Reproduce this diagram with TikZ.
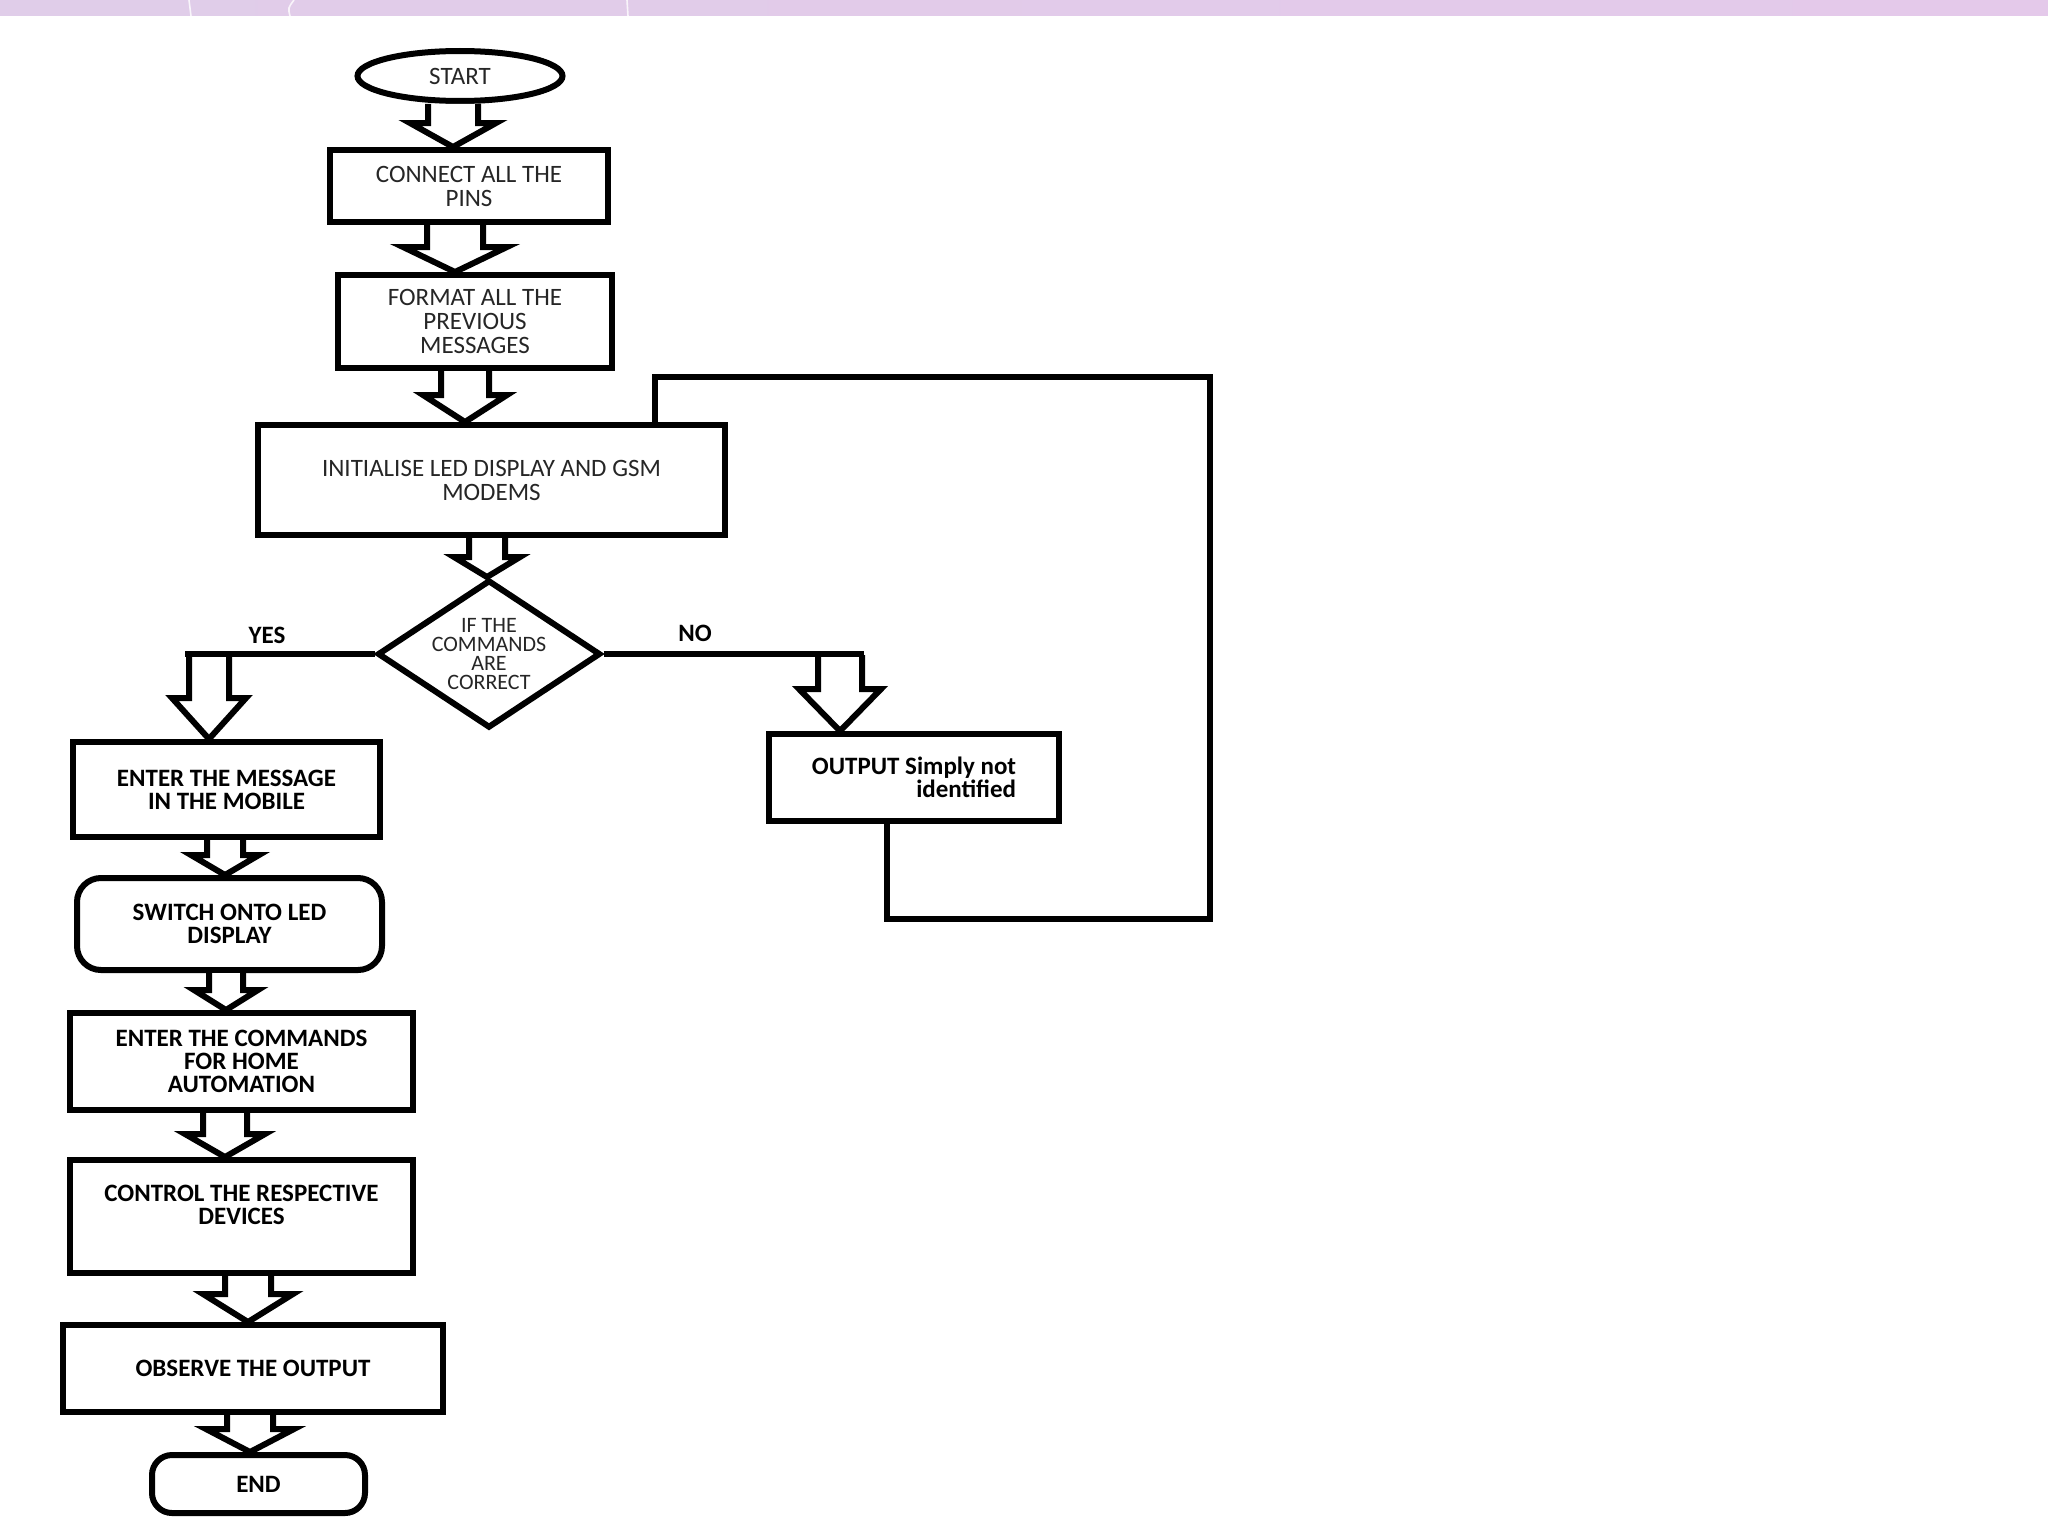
\documentclass[tikz,border=0pt]{standalone}
\usepackage{fontspec}
\setmainfont{Carlito}
\usetikzlibrary{calc,shapes.geometric}
\definecolor{bandL}{HTML}{E0CDE9}
\definecolor{bandM}{HTML}{F1E5F3}
\definecolor{bandR}{HTML}{E4C9EA}
\newcommand\barr[6]{%
  \draw[barrow] let \p1=(#1), \p2=(#2) in
    ({#3-#4},\y1) -- ({#3-#4},{\y2+#6*0.5pt}) -- ({#3-#5},{\y2+#6*0.5pt})
    -- (#3,\y2) -- ({#3+#5},{\y2+#6*0.5pt}) -- ({#3+#4},{\y2+#6*0.5pt})
    -- ({#3+#4},\y1);}
\begin{document}
\begin{tikzpicture}[x=0.5pt,y=-0.5pt,
  box/.style={draw, line width=3pt, rectangle, inner sep=0pt, align=center,
    text=black!85, font=\fontsize{12.5pt}{12pt}\selectfont},
  bbox/.style={box, text=black, font=\fontsize{12.5pt}{11.5pt}\selectfont\bfseries},
  barrow/.style={draw, fill=white, line width=3pt, line join=miter},
  link/.style={draw, line width=3pt},
  lbl/.style={font=\fontsize{12.5pt}{12pt}\selectfont\bfseries}]
\useasboundingbox (0,0) rectangle (2048,1536);
\fill[white] (0,0) rectangle (2048,1536);
\shade[left color=bandL, middle color=bandM, right color=bandR] (0,0) rectangle (2048,16);
\draw[white, opacity=0.8, line width=0.8pt] (189,0) -- (191,16) (294,0) .. controls (288,8) .. (290,16) (627,0) -- (628,16);

% nodes
\node[box, ellipse, minimum width=102.5pt, minimum height=25pt] (start) at (460,76) {START};
\node[box, minimum width=139pt, minimum height=36pt] (conn) at (469,186) {CONNECT ALL THE\\PINS};
\node[box, minimum width=137pt, minimum height=46.5pt] (fmt) at (475,321.5) {FORMAT ALL THE\\PREVIOUS\\MESSAGES};
\node[box, minimum width=233.5pt, minimum height=55pt] (init) at (491.5,480) {INITIALISE LED DISPLAY AND GSM\\MODEMS};
\node[box, diamond, aspect=1.5, minimum width=111.5pt, minimum height=74pt,
  font=\fontsize{11pt}{9.5pt}\selectfont] (dec) at (489,654) {IF THE\\COMMANDS\\ARE\\CORRECT};
\node[bbox, minimum width=153.5pt, minimum height=47.5pt] (msg) at (226.5,789.5) {ENTER THE MESSAGE\\IN THE MOBILE};
\node[bbox, minimum width=145pt, minimum height=43.5pt, align=right] (out) at (914,777.5) {OUTPUT Simply not\\identified};
\node[bbox, rounded corners=12pt, minimum width=152.5pt, minimum height=46pt] (sw) at (229.5,924) {SWITCH ONTO LED\\DISPLAY};
\node[bbox, minimum width=171.5pt, minimum height=48.5pt] (cmd) at (241.5,1061.5) {ENTER THE COMMANDS\\FOR HOME\\AUTOMATION};
\node[bbox, minimum width=171.5pt, minimum height=56.5pt] (ctrl) at (241.5,1216.5) {CONTROL THE RESPECTIVE\\DEVICES\\\mbox{}};
\node[bbox, minimum width=190pt, minimum height=43.5pt] (obs) at (253,1368.5) {OBSERVE THE OUTPUT};
\node[bbox, rounded corners=10pt, minimum width=106.5pt, minimum height=29pt] (end) at (258.5,1484) {END};

\node[lbl] (yes) at (267,635) {YES};
\node[lbl] (no) at (695,633) {NO};

\coordinate (yesc) at (185,655);
\coordinate (noc) at (864,655);
\coordinate (l1) at (655,377);
\coordinate (l2) at (1210,377);
\coordinate (l3) at (1210,919);
\coordinate (l4) at (887,919);

% block arrows
\barr{start.south}{conn.north}{453}{25}{43}{24}
\barr{conn.south}{fmt.north}{455}{28}{52}{25}
\barr{fmt.south}{init.north}{465}{24}{42}{27}
\barr{init.south}{dec.north}{487}{18}{33}{20}
\barr{yesc}{msg.north}{209}{20}{37}{41}
\barr{noc}{out.north}{840}{22}{41}{42}
\barr{msg.south}{sw.north}{225}{18}{34}{20}
\barr{sw.south}{cmd.north}{226}{17}{32}{20}
\barr{cmd.south}{ctrl.north}{225}{22}{40}{23}
\barr{ctrl.south}{obs.north}{248}{23}{45}{28}
\barr{obs.south}{end.north}{250}{23}{44}{23}

% connectors
\draw[link] (dec.west) -- (dec.west -| yesc);
\draw[link] (dec.east) -- (dec.east -| noc);
\draw[link, line join=miter] (init.north -| l1) -- (l1) -- (l2) -- (l3) -- (l4) -- (out.south -| l4);
\end{tikzpicture}
\end{document}
